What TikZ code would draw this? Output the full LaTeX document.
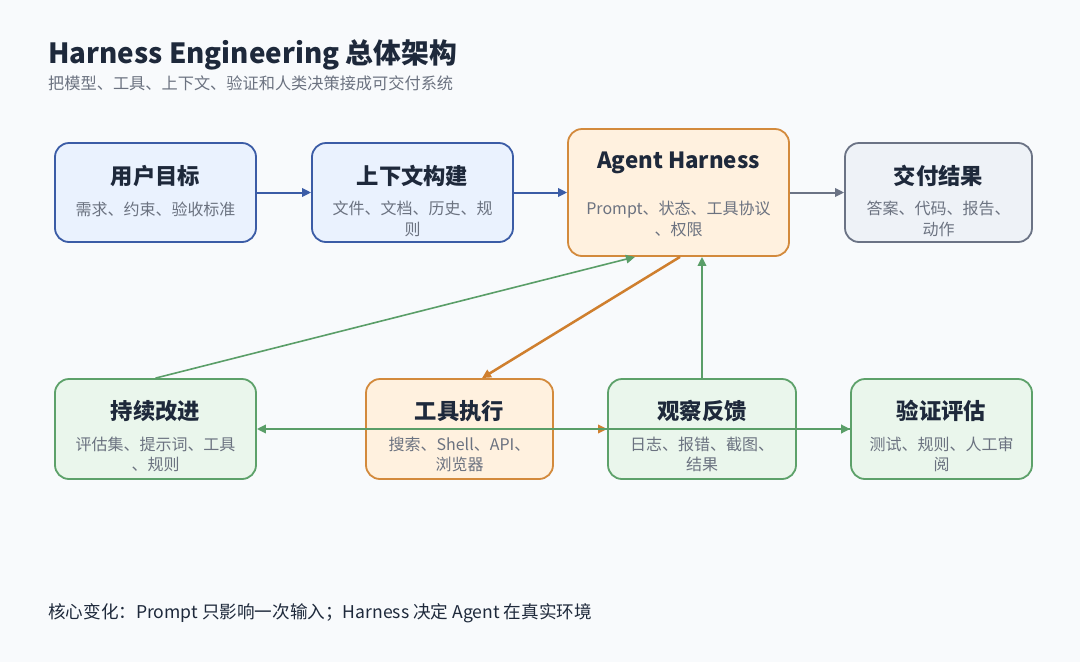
\documentclass[tikz,border=0pt]{standalone}
\usepackage{fontspec}
\setmainfont{Noto Sans CJK SC}
\usetikzlibrary{arrows.meta,calc}
\definecolor{bg}{HTML}{F8FAFC}
\definecolor{titlec}{HTML}{1E293B}
\definecolor{subc}{HTML}{6B7280}
\definecolor{bluebd}{HTML}{3B5CA6}
\definecolor{bluefill}{HTML}{EAF2FE}
\definecolor{orangebd}{HTML}{D38A3C}
\definecolor{orangefill}{HTML}{FFF1DF}
\definecolor{graybd}{HTML}{6B7385}
\definecolor{grayfill}{HTML}{EEF2F7}
\definecolor{greenbd}{HTML}{5DA16A}
\definecolor{greenfill}{HTML}{EAF6EC}
\definecolor{greenarr}{HTML}{5A9E68}
\definecolor{orangearr}{HTML}{CF7F2E}
\tikzset{
  box/.style={draw, line width=1.8pt, rounded corners=14pt, inner sep=0pt, anchor=center},
  bluebox/.style={box, draw=bluebd, fill=bluefill},
  orangebox/.style={box, draw=orangebd, fill=orangefill},
  graybox/.style={box, draw=graybd, fill=grayfill},
  greenbox/.style={box, draw=greenbd, fill=greenfill},
  ttl/.style={font=\fontsize{22.3}{26}\selectfont\bfseries, text=titlec, inner sep=0pt},
  sub/.style={font=\fontsize{16}{20.5}\selectfont, text=subc, align=center, inner sep=0pt},
  arr/.style={-{Triangle[length=9pt,width=8.5pt]}, line width=2pt},
}
\begin{document}
\begin{tikzpicture}[x=1pt,y=-1pt]
\path[fill=bg] (0,0) rectangle (1080,662);
\useasboundingbox (0,0) rectangle (1080,662);

\node[anchor=base west, inner sep=0pt, text=titlec, font=\fontsize{27.8}{32}\selectfont\bfseries] (title) at (48,63) {Harness Engineering 总体架构};
\node[anchor=base west, inner sep=0pt, text=subc, font=\fontsize{16.2}{20}\selectfont] (subtitle) at (48,89) {把模型、工具、上下文、验证和人类决策接成可交付系统};

% row 1
\node[bluebox, minimum width=201pt, minimum height=99pt] (goal) at (155.5,192.5) {};
\node[bluebox, minimum width=201pt, minimum height=99pt] (ctx) at (412.5,192.5) {};
\node[orangebox, minimum width=221pt, minimum height=127pt] (agent) at (678.5,192.5) {};
\node[graybox, minimum width=187pt, minimum height=99pt] (deliv) at (938.5,192.5) {};
% row 2
\node[greenbox, minimum width=201pt, minimum height=100pt] (imp) at (155.5,429) {};
\node[orangebox, minimum width=187pt, minimum height=100pt] (tool) at (459.5,429) {};
\node[greenbox, minimum width=188pt, minimum height=100pt] (obs) at (702,429) {};
\node[greenbox, minimum width=181pt, minimum height=100pt] (ver) at (941.5,429) {};

% texts row 1
\node[ttl] (goalT) at (155.5,176) {用户目标};
\node[sub] (goalS) at (155.5,209) {需求、约束、验收标准};
\node[ttl] (ctxT) at (412.5,176) {上下文构建};
\node[sub] (ctxS) at (412.5,219) {文件、文档、历史、规\\则};
\node[ttl] (agentT) at (678.5,162.5) {Agent Harness};
\node[sub] (agentS) at (678.5,219) {Prompt、状态、工具协议\\、权限};
\node[ttl] (delivT) at (938.5,176) {交付结果};
\node[sub] (delivS) at (938.5,219) {答案、代码、报告、\\动作};
% texts row 2
\node[ttl] (impT) at (155.5,411) {持续改进};
\node[sub] (impS) at (155.5,454.5) {评估集、提示词、工具\\、规则};
\node[ttl] (toolT) at (459.5,411) {工具执行};
\node[sub] (toolS) at (459.5,454.5) {搜索、Shell、API、\\浏览器};
\node[ttl] (obsT) at (702,411) {观察反馈};
\node[sub] (obsS) at (702,454.5) {日志、报错、截图、\\结果};
\node[ttl] (verT) at (941.5,411) {验证评估};
\node[sub] (verS) at (941.5,454.5) {测试、规则、人工审\\阅};

% connectors
\draw[arr, bluebd] (goal.east) -- (ctx.west);
\draw[arr, bluebd] (ctx.east) -- (agent.west);
\draw[arr, graybd] (agent.east) -- (deliv.west);
\draw[arr, orangearr, line width=2.5pt] ($(agent.south)+(1.5,0)$) -- ($(tool.north)+(22.5,0)$);
\draw[arr, greenarr, line width=1.6pt] (imp.north) -- ($(agent.south)+(-43.5,0)$);
\draw[arr, greenarr] (obs.north) -- (obs.north |- agent.south);
\draw[arr, orangearr] (tool.east) -- (obs.west);
\draw[arr, greenarr, line width=2.4pt] (obs.east) -- (ver.west);
\draw[arr, greenarr] (ver.west) -- (imp.east);

\node[anchor=base west, inner sep=0pt, text=titlec, font=\fontsize{17.6}{21}\selectfont] (note) at (48,618) {核心变化：Prompt 只影响一次输入；Harness 决定 Agent 在真实环境};
\end{tikzpicture}
\end{document}
